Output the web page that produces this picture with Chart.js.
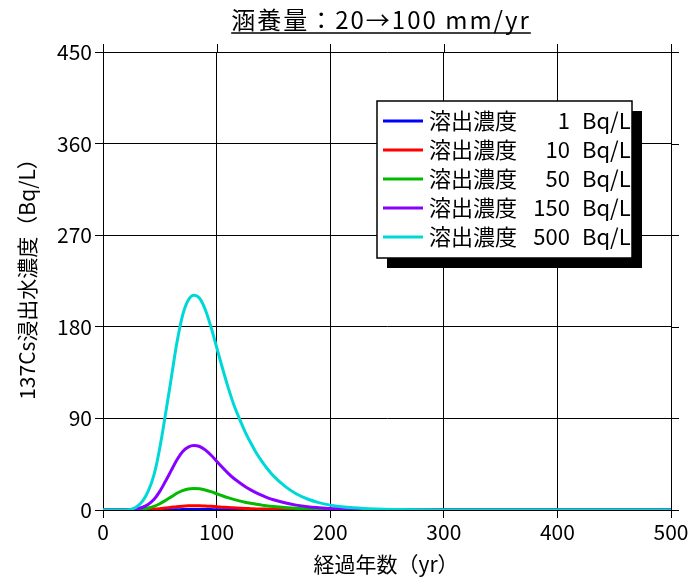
<!DOCTYPE html>
<html>
<head>
<meta charset="utf-8">
<script src="https://cdn.jsdelivr.net/npm/chart.js@4.4.1/dist/chart.umd.min.js"></script>
<style>
  html, body { margin: 0; padding: 0; background: #fff; }
  #wrap { width: 692px; height: 579px; }
</style>
</head>
<body>
<div id="wrap"><canvas id="c" width="692" height="579"></canvas></div>
<script>
// elapsed years
const years = [0,10,20,25,30,35,40,45,50,55,
               60,65,70,75,80,85,90,95,100,105,
               110,115,120,125,130,135,140,145,150,
               160,170,180,190,200,210,220,
               240,260,280,300,
               350,400,450,500];

// leachate concentration (Bq/L) for each source concentration
const conc1   = [0,0,0,0,0,0,0,0.1,0.1,0.2,
                 0.3,0.3,0.4,0.4,0.4,0.4,0.4,0.4,0.3,0.3,
                 0.2,0.2,0.2,0.2,0.1,0.1,0.1,0.1,0.1,
                 0,0,0,0,0,0,0,
                 0,0,0,0,
                 0,0,0,0];
const conc10  = [0,0,0,0,0.1,0.2,0.4,0.7,1.2,1.9,
                 2.6,3.3,3.8,4.1,4.2,4.2,3.9,3.6,3.2,2.8,
                 2.4,2.1,1.8,1.5,1.3,1.1,1,0.8,0.7,
                 0.5,0.3,0.2,0.1,0.1,0.1,0,
                 0,0,0,0,
                 0,0,0,0];
const conc50  = [0,0,0,0.1,0.4,0.9,1.9,3.5,6.1,9.4,
                 12.9,16.4,19.1,20.6,21.1,20.8,19.7,18,16,14,
                 12.1,10.4,9,7.7,6.6,5.6,4.8,4,3.4,
                 2.4,1.6,1.1,0.7,0.5,0.3,0.2,
                 0.1,0,0,0,
                 0,0,0,0];
const conc150 = [0,0,0,0.2,1.1,2.7,5.7,10.5,18.3,28.2,
                 38.7,49.2,57.3,61.8,63.3,62.4,59.1,54,48,42,
                 36.3,31.2,27,23.1,19.8,16.8,14.3,12,10.1,
                 7.1,4.8,3.2,2.2,1.4,1,0.6,
                 0.3,0.1,0,0,
                 0,0,0,0];
const conc500 = [0,0,0.1,0.8,3.5,9,19,35,61,94,
                 129,164,191,206,211,208,197,180,160,140,
                 121,104,90,77,66,56,47.5,40,33.5,
                 23.5,16,10.8,7.2,4.8,3.2,2.1,
                 0.9,0.4,0.15,0.05,
                 0,0,0,0];

const seriesNames  = ['溶出濃度', '溶出濃度', '溶出濃度', '溶出濃度', '溶出濃度'];
const seriesLevels = ['1', '10', '50', '150', '500'];
const seriesUnit   = 'Bq/L';
const seriesValues = [conc1, conc10, conc50, conc150, conc500];
const seriesColors = ['#0000ff', '#ff0000', '#00bb00', '#8800ff', '#00d8d8'];

const xTicks = [0, 100, 200, 300, 400, 500];
const yTicks = [0, 90, 180, 270, 360, 450];

const titleText = '涵養量：20→100 mm/yr';
const xTitle = '経過年数（yr）';
const yTitle = '137Cs浸出水濃度（Bq/L）';

const FONT = "'Noto Sans CJK JP', 'Noto Sans', sans-serif";
const TICK = 8;

const datasets = seriesValues.map((vals, i) => ({
  label: seriesNames[i] + ' ' + seriesLevels[i] + ' ' + seriesUnit,
  data: years.map((yr, k) => ({ x: yr, y: vals[k] })),
  borderColor: seriesColors[i],
  backgroundColor: seriesColors[i],
  borderWidth: 3,
  pointRadius: 0,
  fill: false,
  cubicInterpolationMode: 'monotone',
  order: seriesValues.length - i
}));

// title, axis titles, outer tick marks and the shadowed legend box
const decorations = {
  id: 'decorations',
  afterDraw(chart) {
    const { ctx, chartArea: a, scales: { x, y } } = chart;
    ctx.save();
    ctx.strokeStyle = '#000';
    ctx.lineWidth = 1;

    // tick marks on the top and right edges
    ctx.beginPath();
    xTicks.forEach(v => {
      const px = Math.round(x.getPixelForValue(v)) + 0.5;
      ctx.moveTo(px, a.top); ctx.lineTo(px, a.top - TICK);
    });
    yTicks.forEach(v => {
      const py = Math.round(y.getPixelForValue(v)) + 0.5;
      ctx.moveTo(a.right, py); ctx.lineTo(a.right + TICK, py);
    });
    ctx.stroke();

    // main title, underlined
    ctx.fillStyle = '#000';
    ctx.font = '24px ' + FONT;
    ctx.letterSpacing = '2px';
    ctx.textAlign = 'center';
    ctx.textBaseline = 'alphabetic';
    const tx = 381, ty = 29;
    ctx.fillText(titleText, tx, ty);
    const tw = ctx.measureText(titleText).width;
    ctx.letterSpacing = '0px';
    ctx.lineWidth = 1.5;
    ctx.beginPath();
    ctx.moveTo(tx - tw / 2, 33); ctx.lineTo(tx + tw / 2, 33);
    ctx.stroke();

    // axis titles
    ctx.font = '21px ' + FONT;
    ctx.textBaseline = 'middle';
    ctx.fillText(xTitle, 386, 564);
    ctx.save();
    ctx.translate(27, 274);
    ctx.rotate(-Math.PI / 2);
    ctx.font = '21px ' + FONT;
    ctx.fillText(yTitle, 0, 0);
    ctx.restore();

    // legend
    const L = 377, T = 101, R = 632, B = 258, SH = 10;
    ctx.fillStyle = '#000';
    ctx.fillRect(L + SH, T + SH, R - L, B - T);
    ctx.fillStyle = '#fff';
    ctx.fillRect(L, T, R - L, B - T);
    ctx.lineWidth = 1.5;
    ctx.strokeStyle = '#000';
    ctx.strokeRect(L, T, R - L, B - T);

    ctx.font = '22px ' + FONT;
    ctx.textBaseline = 'middle';
    seriesValues.forEach((_, i) => {
      const ry = 121 + i * 29;
      ctx.strokeStyle = seriesColors[i];
      ctx.lineWidth = 3;
      ctx.beginPath();
      ctx.moveTo(383, ry); ctx.lineTo(423, ry);
      ctx.stroke();
      ctx.fillStyle = '#000';
      ctx.textAlign = 'left';
      ctx.fillText(seriesNames[i], 429, ry);
      ctx.textAlign = 'right';
      ctx.fillText(seriesLevels[i], 570, ry);
      ctx.textAlign = 'left';
      ctx.fillText(seriesUnit, 582, ry);
    });
    ctx.restore();
  }
};

new Chart(document.getElementById('c'), {
  type: 'line',
  data: { datasets },
  options: {
    responsive: false,
    animation: false,
    devicePixelRatio: 1,
    layout: { padding: { top: 52, right: 21, left: 0, bottom: 0 } },
    plugins: { legend: { display: false }, tooltip: { enabled: false }, title: { display: false } },
    scales: {
      x: {
        type: 'linear',
        min: 0, max: 500,
        afterBuildTicks: s => { s.ticks = xTicks.map(v => ({ value: v })); },
        afterFit: s => { s.height = 69; },
        ticks: { color: '#000', font: { family: FONT, size: 21 }, padding: 1, maxRotation: 0 },
        grid: { color: '#000', lineWidth: 1, tickLength: TICK, drawTicks: true },
        border: { color: '#000', width: 1 }
      },
      y: {
        type: 'linear',
        min: 0, max: 450,
        afterBuildTicks: s => { s.ticks = yTicks.map(v => ({ value: v })); },
        afterFit: s => { s.width = 103; },
        ticks: { color: '#000', font: { family: FONT, size: 21 }, padding: 3 },
        grid: { color: '#000', lineWidth: 1, tickLength: TICK, drawTicks: true },
        border: { color: '#000', width: 1 }
      }
    }
  },
  plugins: [decorations]
});
</script>
</body>
</html>
